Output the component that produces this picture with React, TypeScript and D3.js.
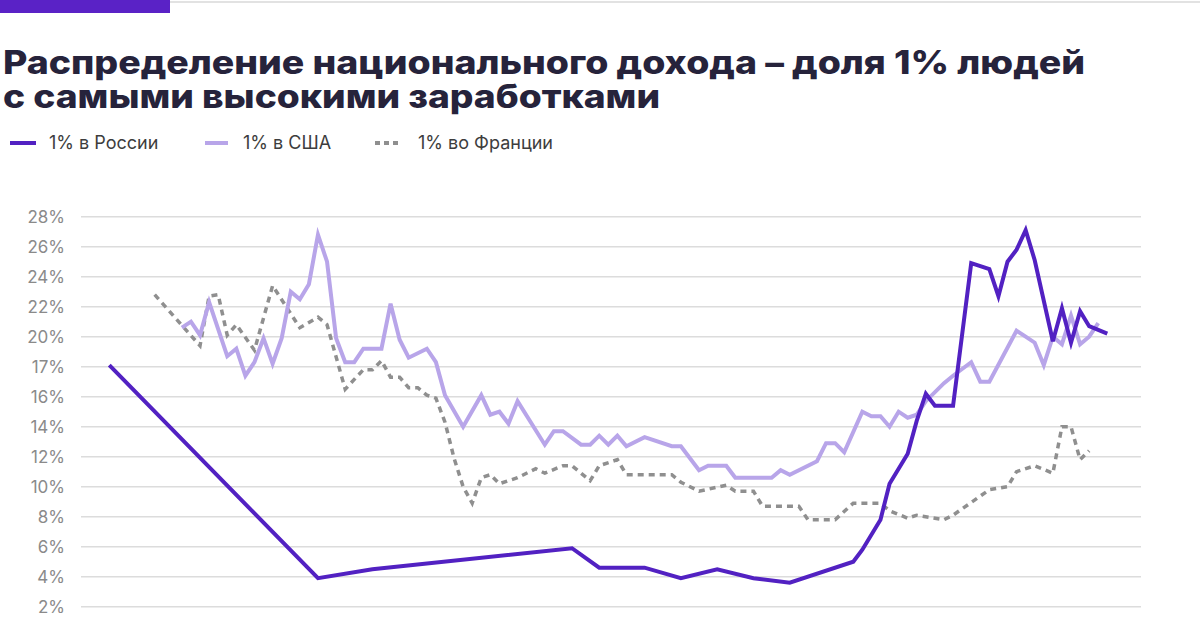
import React from "react";
import * as d3 from "d3";

const titleLines = [
  "Распределение национального дохода – доля 1% людей",
  "с самыми высокими заработками",
];
const seriesNames = ["1% в России", "1% в США", "1% во Франции"];

const tickValues = [0, 2, 4, 6, 8, 10, 12, 14, 16, 18, 20, 22, 24, 26, 28];
const tickLabels = ["0%", "2%", "4%", "6%", "8%", "10%", "12%", "14%", "16%", "17%", "20%", "22%", "24%", "26%", "28%"];

const russiaYears = [1905, 1928, 1934, 1956, 1959, 1964, 1968, 1972, 1976, 1980, 1987, 1988, 1990, 1991, 1993, 1994, 1995, 1996, 1998, 2000, 2002, 2003, 2004, 2005, 2006, 2007, 2009, 2010, 2011, 2012, 2013, 2015];
const russiaValues = [18.1, 3.9, 4.5, 5.9, 4.6, 4.6, 3.9, 4.5, 3.9, 3.6, 5.0, 5.8, 7.8, 10.2, 12.2, 14.4, 16.2, 15.4, 15.4, 24.9, 24.5, 22.7, 25.0, 25.8, 27.1, 25.1, 19.7, 21.9, 19.6, 21.7, 20.7, 20.2];

const usYears = [1913, 1914, 1915, 1916, 1918, 1919, 1920, 1921, 1922, 1923, 1924, 1925, 1926, 1927, 1928, 1929, 1930, 1931, 1932, 1933, 1935, 1936, 1937, 1938, 1940, 1941, 1942, 1944, 1946, 1947, 1948, 1949, 1950, 1953, 1954, 1955, 1957, 1958, 1959, 1960, 1961, 1962, 1964, 1967, 1968, 1970, 1971, 1973, 1974, 1978, 1979, 1980, 1983, 1984, 1985, 1986, 1988, 1989, 1990, 1991, 1992, 1993, 1994, 1995, 1997, 1998, 2000, 2001, 2002, 2005, 2006, 2007, 2008, 2009, 2010, 2011, 2012, 2013, 2014];
const usValues = [20.6, 21.0, 20.1, 22.3, 18.7, 19.2, 17.4, 18.3, 19.9, 18.2, 19.9, 23.0, 22.5, 23.5, 26.8, 25.0, 19.9, 18.3, 18.3, 19.2, 19.2, 22.2, 19.8, 18.6, 19.2, 18.3, 16.1, 14.0, 16.1, 14.8, 15.0, 14.2, 15.7, 12.8, 13.7, 13.7, 12.8, 12.8, 13.4, 12.8, 13.4, 12.7, 13.3, 12.7, 12.7, 11.1, 11.4, 11.4, 10.6, 10.6, 11.1, 10.8, 11.7, 12.9, 12.9, 12.3, 15.0, 14.7, 14.7, 14.0, 15.0, 14.6, 14.8, 15.7, 16.9, 17.4, 18.3, 17.0, 17.0, 20.4, 20.0, 19.6, 18.1, 20.0, 19.5, 21.4, 19.5, 20.0, 20.9];

const franceYears = [1910, 1915, 1916, 1917, 1918, 1919, 1921, 1923, 1926, 1928, 1929, 1931, 1933, 1934, 1935, 1936, 1937, 1938, 1939, 1940, 1941, 1942, 1943, 1944, 1945, 1946, 1947, 1948, 1950, 1952, 1953, 1955, 1956, 1958, 1959, 1961, 1962, 1967, 1968, 1970, 1973, 1974, 1976, 1977, 1981, 1982, 1985, 1987, 1990, 1991, 1993, 1994, 1997, 1998, 2002, 2004, 2005, 2007, 2009, 2010, 2011, 2012, 2013];
const franceValues = [22.8, 19.4, 22.7, 22.8, 20.1, 20.8, 19.1, 23.4, 20.6, 21.3, 20.8, 16.5, 17.8, 17.8, 18.4, 17.3, 17.3, 16.6, 16.6, 16.1, 15.9, 14.3, 11.9, 10.0, 8.9, 10.6, 10.8, 10.2, 10.6, 11.2, 10.9, 11.4, 11.4, 10.4, 11.4, 11.8, 10.8, 10.8, 10.3, 9.7, 10.1, 9.7, 9.7, 8.7, 8.7, 7.8, 7.8, 8.9, 8.9, 8.4, 7.9, 8.1, 7.8, 8.1, 9.8, 10.0, 11.0, 11.4, 10.9, 14.0, 14.0, 11.8, 12.4];

const RUSSIA = "#5221c2";
const US = "#b8a5e9";
const FRANCE = "#8f8f8f";

export default function App() {
  const x = d3.scaleLinear().domain([1905, 2015]).range([109.3, 1107.3]);
  const y = d3.scaleLinear().domain([0, 28]).range([636.7, 216.7]);
  const line = d3
    .line<[number, number]>()
    .x((d) => x(d[0]))
    .y((d) => y(d[1]));
  const zip = (a: number[], b: number[]) => a.map((v, i) => [v, b[i]] as [number, number]);

  const font = "Inter, 'Noto Sans', sans-serif";

  return (
    <svg
      width={1200}
      height={628}
      style={{ position: "absolute", left: 0, top: 0, background: "#fff" }}
      fontFamily={font}
    >
      <rect x={0} y={0} width={1200} height={628} fill="#fff" />
      <rect x={170} y={1} width={1030} height={2} fill="#e2e2e2" />
      <rect x={0} y={0} width={170} height={13} fill="#5a22c6" />

      <text x={3} y={74} fontSize={32} fontWeight={800} fill="#26233b" textLength={1082} lengthAdjust="spacingAndGlyphs">
        {titleLines[0]}
      </text>
      <text x={3} y={108} fontSize={32} fontWeight={800} fill="#26233b" textLength={657} lengthAdjust="spacingAndGlyphs">
        {titleLines[1]}
      </text>

      {/* legend */}
      <g fontSize={18} fill="#3d3d3d">
        <line x1={10} x2={36} y1={143} y2={143} stroke={RUSSIA} strokeWidth={4} />
        <text x={49} y={149}>{seriesNames[0]}</text>
        <line x1={205} x2={228} y1={143} y2={143} stroke={US} strokeWidth={4} />
        <text x={243} y={149}>{seriesNames[1]}</text>
        <line x1={375} x2={401} y1={143} y2={143} stroke={FRANCE} strokeWidth={4} strokeDasharray="5 4" />
        <text x={418} y={149}>{seriesNames[2]}</text>
      </g>

      {/* grid + y ticks */}
      <g>
        {tickValues.map((t, i) => (
          <g key={t}>
            <line x1={81} x2={1141} y1={y(t)} y2={y(t)} stroke="#dcdcdc" strokeWidth={1.5} />
            <text x={65} y={y(t) + 6} textAnchor="end" fontSize={17} fill="#8a8a8a">
              {tickLabels[i]}
            </text>
          </g>
        ))}
      </g>

      <path d={line(zip(franceYears, franceValues)) || ""} fill="none" stroke={FRANCE} strokeWidth={3.5} strokeDasharray="6 5" />
      <path d={line(zip(usYears, usValues)) || ""} fill="none" stroke={US} strokeWidth={4} />
      <path d={line(zip(russiaYears, russiaValues)) || ""} fill="none" stroke={RUSSIA} strokeWidth={4} />
    </svg>
  );
}
